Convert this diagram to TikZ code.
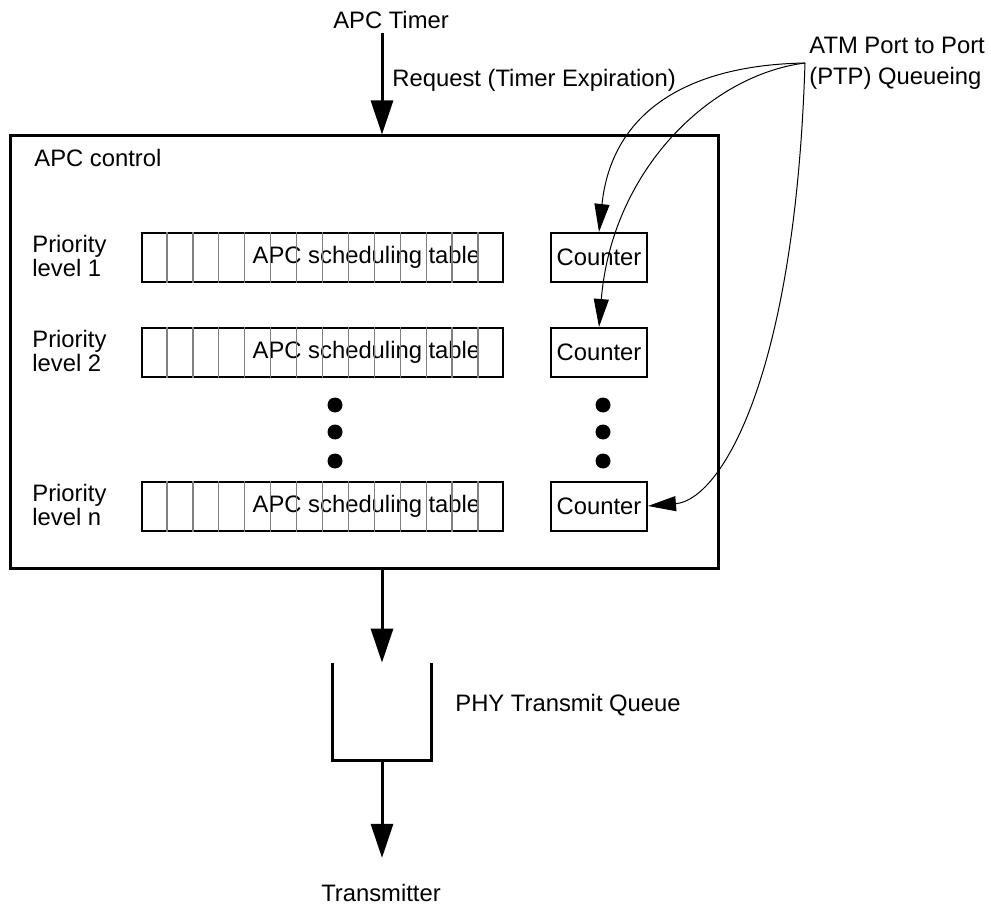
\documentclass[tikz,border=0pt]{standalone}
\usepackage{fontspec}
\setmainfont{Liberation Sans}
\usetikzlibrary{arrows.meta,positioning,calc}
\tikzset{
  lbl/.style={font=\fontsize{11.9}{10.5}\selectfont,inner sep=2pt},
  ctrlbox/.style={draw,line width=1.5pt,minimum width=354pt,minimum height=216pt},
  schedtab/.style={draw,line width=1pt,minimum width=180.5pt,minimum height=24.5pt},
  cntbox/.style={draw,line width=1pt,minimum width=48pt,minimum height=24.5pt,inner sep=0pt,font=\fontsize{11.9}{10.5}\selectfont},
  celldiv/.style={gray,line width=.7pt},
  bigarrow/.style={-{Triangle[length=17pt,width=11pt]},line width=1.5pt},
  ptparrow/.style={-{Triangle[length=14pt,width=7.5pt]},line width=.5pt},
  vdot/.style={circle,fill,inner sep=0pt,minimum size=7.5pt}
}

\begin{document}
\begin{tikzpicture}[x=0.5pt,y=-0.5pt]
  \useasboundingbox (0,0) rectangle (991,909);
  \node[ctrlbox] (ctrl) at (364,352) {};
  \node[lbl,anchor=west] (ctrllab) at (30,158) {APC control};
  \node[lbl] (timer) at (391,20) {APC Timer};
  \node[lbl,anchor=west] (req) at (388,80) {Request (Timer Expiration)};
  \node[lbl,anchor=west,align=left,font=\fontsize{11.9}{15.5}\selectfont] (ptp) at (805,63) {ATM Port to Port\\(PTP) Queueing};
  % priority rows
  \node[schedtab] (tab1) at (322.5,257.5) {};
  \node[schedtab] (tab2) at (322.5,352.5) {};
  \node[schedtab] (tab3) at (322.5,506) {};
  \foreach \r in {1,2,3} {
    \node[lbl] (tlab\r) at ($(tab\r.center)+(44,0)$) {APC scheduling table};
    \foreach \k in {1,...,13}
      \draw[celldiv] ($(tab\r.north west)!\k/14!(tab\r.north east)$) -- ($(tab\r.south west)!\k/14!(tab\r.south east)$);
  }
  \node[lbl,anchor=west,align=left] (prio1) at (28,256) {Priority\\level 1};
  \node[lbl,anchor=west,align=left] (prio2) at (28,351) {Priority\\level 2};
  \node[lbl,anchor=west,align=left] (prio3) at (28,505) {Priority\\level n};
  \node[cntbox] (cnt1) at (599,257.5) {Counter};
  \node[cntbox] (cnt2) at (599,352.5) {Counter};
  \node[cntbox] (cnt3) at (599,506) {Counter};
  \node[vdot] (ldot1) at (335,405) {};
  \node[vdot] (ldot2) at (335,432) {};
  \node[vdot] (ldot3) at (335,461) {};
  \node[vdot] (rdot1) at (603,405) {};
  \node[vdot] (rdot2) at (603,432) {};
  \node[vdot] (rdot3) at (603,461) {};
  % output queue
  \node[minimum width=49pt,minimum height=48.5pt,inner sep=0pt] (queue) at (382,711.5) {};
  \draw[line width=1.5pt] (queue.north west) |- (queue.south) -| (queue.north east);
  \node[lbl,anchor=west] (phy) at (451,705) {PHY Transmit Queue};
  \node[lbl] (trans) at (381,893) {Transmitter};
  \draw[bigarrow] (queue.north |- timer.south) -- (queue.north |- ctrl.north);
  \draw[bigarrow] (queue.north |- ctrl.south) -- (queue.north);
  \draw[bigarrow] (queue.south) -- ([yshift=11pt]queue.south |- trans.north);
  % PTP queueing
  \draw[ptparrow] (ptp.west) .. controls (690,65) and (612,110) .. (cnt1.north);
  \draw[ptparrow] (ptp.west) .. controls (710,75) and (612,170) .. (cnt2.north);
  \draw[ptparrow] (ptp.west) .. controls (795,380) and (720,500) .. (cnt3.east);
\end{tikzpicture}
\end{document}
